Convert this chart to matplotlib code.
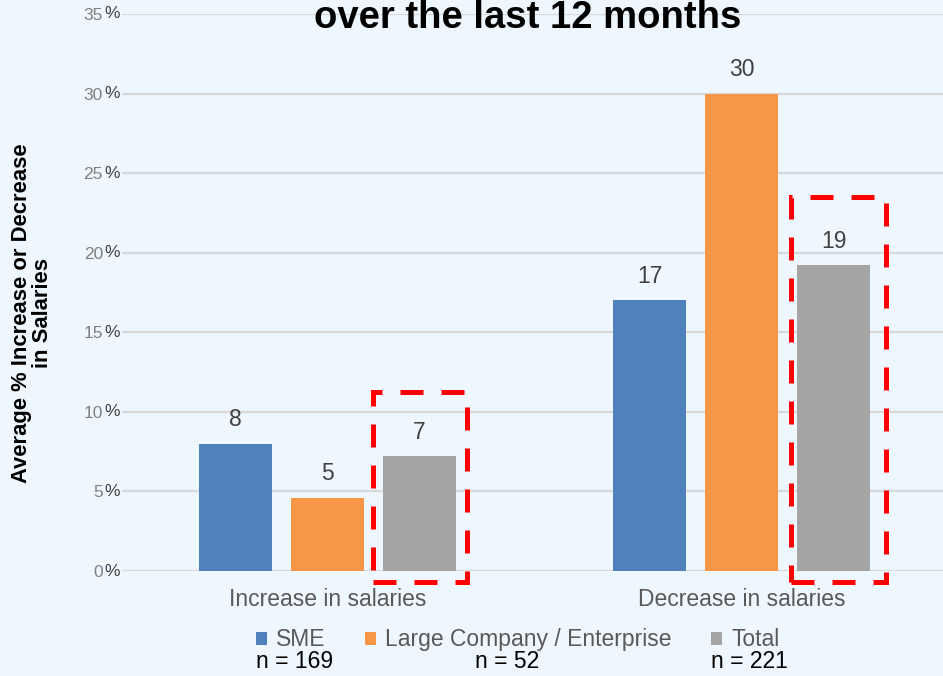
import matplotlib.pyplot as plt
import numpy as np
from matplotlib.patches import Rectangle

plt.rcParams['font.family'] = ['Liberation Sans', 'DejaVu Sans']

categories = ['Increase in salaries', 'Decrease in salaries']
series = ['SME', 'Large Company / Enterprise', 'Total']
sme = [8.0, 17.0]
large = [4.6, 30.0]
total = [7.2, 19.2]
sample_sizes = ['n = 169', 'n = 52', 'n = 221']
yticks = [0, 5, 10, 15, 20, 25, 30, 35]

colors = ['#4f81bd', '#f79646', '#a5a5a5']
bg = '#eef6fe'


def main():
    fig = plt.figure(figsize=(9.43, 6.76), dpi=100, facecolor=bg)
    ax = fig.add_axes([0.1294, 0.1553, 0.8706, 0.8240])
    ax.set_facecolor(bg)

    x = np.arange(len(categories))
    step = 0.2222
    width = 0.176
    for i, (vals, col, name) in enumerate(zip([sme, large, total], colors, series)):
        pos = x + (i - 1) * step
        bars = ax.bar(pos, vals, width, color=col, label=name, zorder=3)
        for b, v in zip(bars, vals):
            ax.annotate(str(int(round(v))), (b.get_x() + b.get_width() / 2, v),
                        xytext=(0, 9), textcoords='offset points',
                        ha='center', va='bottom', fontsize=16.5, color='#404040')

    # red dashed highlight around the Total bars
    pads = [(0.1135, 0.1135, 4.05), (0.102, 0.126, 4.3)]
    for xi, v, (pl, pr, pt) in zip(x + step, total, pads):
        r = Rectangle((xi - pl, -0.72), pl + pr, v + pt + 0.72, fill=False,
                      edgecolor='#ff0000', lw=3.6, linestyle=(0, (4.6, 3.6)),
                      clip_on=False, zorder=5)
        ax.add_patch(r)

    ax.set_xlim(-0.4964, 1.4867)
    ax.set_ylim(0, 35)
    ax.set_yticks(yticks)
    ax.set_yticklabels([str(t) for t in yticks], fontsize=12.5, color='#808080')
    ax.tick_params(axis='y', length=0, pad=13.7)
    for t in yticks:
        ax.annotate('%', (0, t), xycoords=ax.get_yaxis_transform(),
                    xytext=(-1.5, 0), textcoords='offset points',
                    ha='right', va='center', fontsize=12.5, color='#404040',
                    annotation_clip=False)
    ax.set_xticks(x)
    ax.set_xticklabels(categories, fontsize=16.5, color='#595959')
    ax.tick_params(axis='x', length=0, pad=12)
    ax.grid(axis='y', color='#d9d9d9', lw=1.6, zorder=0)
    for s in ax.spines.values():
        s.set_visible(False)

    fig.text(0.034, 0.537, 'Average % Increase or Decrease\nin Salaries',
             rotation=90, ha='center', va='center', fontsize=15.8,
             fontweight='bold', linespacing=1.0)
    fig.text(0.56, 1 - 28 / 676, 'over the last 12 months', ha='center',
             va='baseline', fontsize=27.5, fontweight='bold')

    fig.legend(loc='center', bbox_to_anchor=(0.549, 0.0533), ncol=3,
               frameon=False, fontsize=16.5, labelcolor='#595959',
               handlelength=0.5, handleheight=0.5, handletextpad=0.4,
               columnspacing=1.7, borderpad=0)
    for xc, txt in zip([295, 507, 749], sample_sizes):
        fig.text(xc / 943, 1 - 662 / 676, txt, ha='center', va='center',
                 fontsize=16.5, color='black')

    fig.savefig('out.png', dpi=100, facecolor=bg)


if __name__ == '__main__':
    main()
